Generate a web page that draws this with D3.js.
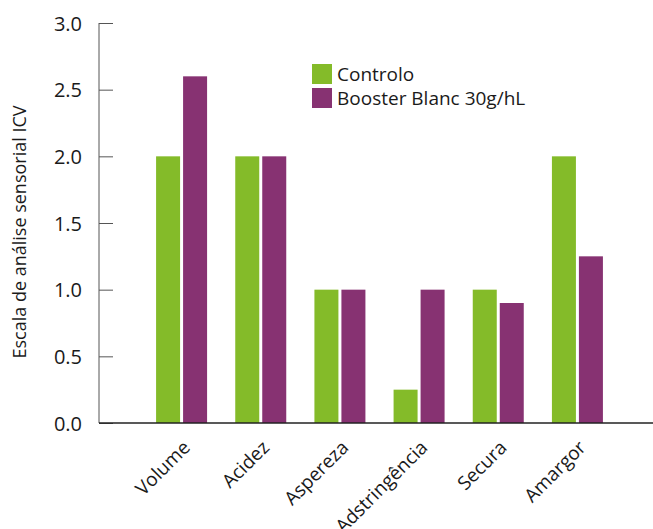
<!DOCTYPE html>
<html><head><meta charset="utf-8">
<script src="https://cdn.jsdelivr.net/npm/d3@7"></script>
<style>body{margin:0;background:#fff}svg{display:block}text{font-family:"Open Sans","Noto Sans",sans-serif;fill:#1a1a1a}</style>
</head><body><svg id="c" width="653" height="529"></svg>
<script>
const categories = ["Volume","Acidez","Aspereza","Adstringência","Secura","Amargor"];
const series = ["Controlo","Booster Blanc 30g/hL"];
const controlo = [2.0,2.0,1.0,0.25,1.0,2.0];
const booster = [2.6,2.0,1.0,1.0,0.9,1.25];
const yTicks = [0,0.5,1.0,1.5,2.0,2.5,3.0];
const colors = ["#84bb29","#873272"];
const yTitle = "Escala de análise sensorial ICV";

const svg = d3.select("#c");
const y = d3.scaleLinear().domain([0,3]).range([423,23]);
const x0 = d3.scaleBand().domain(categories).range([142,617]).padding(0);
const x1 = d3.scaleBand().domain(series).range([x0.bandwidth()/2-25.5, x0.bandwidth()/2+25.5]).paddingInner(3/27);

const values = [controlo, booster];
categories.forEach((c,i)=>{
  series.forEach((s,j)=>{
    const v = values[j][i];
    svg.append("rect").attr("x", x0(c)+x1(s)).attr("width", x1.bandwidth())
      .attr("y", y(v)).attr("height", y(0)-y(v)).attr("fill", colors[j]);
  });
});

// y axis
const ya = svg.append("g").attr("transform","translate(99,0)")
  .call(d3.axisRight(y).tickValues(yTicks).tickSize(14).tickFormat(d3.format(".1f")));
ya.select(".domain").attr("stroke","#555").attr("d","M0,23V423");
ya.selectAll(".tick line").attr("stroke","#555");
ya.selectAll(".tick text").attr("x",-17).attr("text-anchor","end").attr("dy","0.35em")
  .style("font-size","20px").attr("fill","#1a1a1a");

// x axis line
svg.append("line").attr("x1",99).attr("x2",653).attr("y1",423).attr("y2",423).attr("stroke","#222").attr("stroke-width",1.5);

// category labels
categories.forEach(c=>{
  const cx = x0(c)+x0.bandwidth()/2;
  svg.append("text").attr("transform",`translate(${cx+5},${444}) rotate(-45)`)
    .attr("text-anchor","end").attr("dy","0.35em").style("font-size","19px").text(c);
});

// y title
svg.append("text").attr("transform","translate(26,232) rotate(-90)").attr("text-anchor","middle")
  .style("font-size","18px").text(yTitle);

// legend
series.forEach((s,j)=>{
  svg.append("rect").attr("x",312).attr("y",64+j*24).attr("width",20).attr("height",20).attr("fill",colors[j]);
  svg.append("text").attr("x",337).attr("y",74+j*24).attr("dy","0.35em").style("font-size","19px").text(s);
});
</script></body></html>
